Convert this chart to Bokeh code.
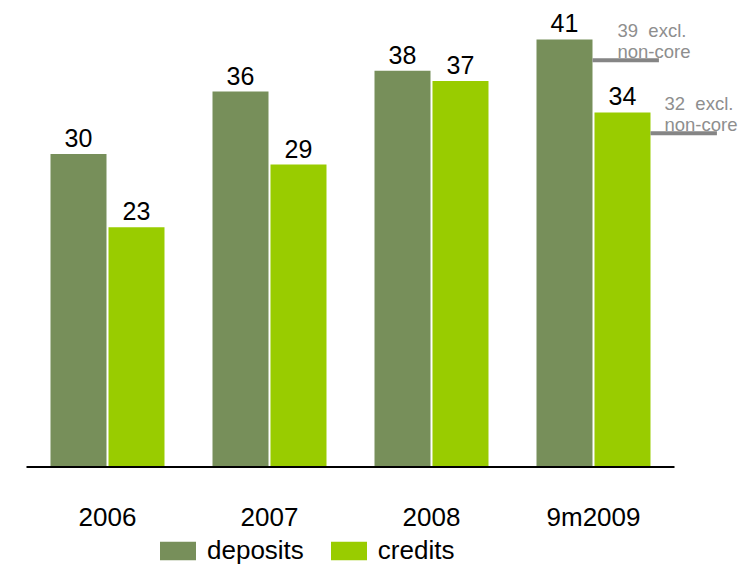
from bokeh.plotting import figure
from bokeh.models import Range1d, Legend, LegendItem
from bokeh.core.properties import value
from bokeh.embed import file_html
from bokeh.resources import INLINE

# ---- data ----
categories = ["2006", "2007", "2008", "9m2009"]
deposits = [30, 36, 38, 41]
credits = [23, 29, 37, 34]
ann_values = [39, 32]          # excl. non-core, for 9m2009 deposits / credits
ann_labels = ["39\u00a0 excl.", "32\u00a0 excl."]
ann_sub = ["non-core", "non-core"]

# ---- styles ----
FONT_NAME = "Liberation Sans"
FONT = value(FONT_NAME)
DEP_COLOR = "#778f5a"
CRE_COLOR = "#99cc00"
GRAY_TXT = "#8e8e8e"
GRAY_LINE = "#858585"

idx = list(range(len(categories)))
W = 0.3457
OFF = 0.179

p = figure(width=752, height=566,
           x_range=Range1d(-0.6605, 3.9815), y_range=Range1d(-9.54, 44.73),
           output_backend="svg", toolbar_location=None,
           x_axis_location=None, y_axis_location=None,
           min_border=0, outline_line_color=None)
p.grid.visible = False
p.background_fill_color = "white"
p.border_fill_color = "white"

dep_x = [i - OFF for i in idx]
cre_x = [i + OFF for i in idx]

r_dep = p.vbar(x=dep_x, top=deposits, bottom=0, width=W,
               fill_color=DEP_COLOR, line_color=None)
r_cre = p.vbar(x=cre_x, top=credits, bottom=0, width=W,
               fill_color=CRE_COLOR, line_color=None)

# baseline
p.segment(x0=[-0.5], y0=[0], x1=[len(categories) - 0.5], y1=[0],
          line_color="black", line_width=2)

# value labels
p.text(x=dep_x, y=deposits, text=[str(v) for v in deposits],
       text_align="center", text_baseline="alphabetic", y_offset=-16,
       text_font=FONT, text_font_size="25px", text_color="black")
p.text(x=cre_x, y=credits, text=[str(v) for v in credits],
       text_align="center", text_baseline="alphabetic", y_offset=-16,
       text_font=FONT, text_font_size="25px", text_color="black")

# category labels
p.text(x=idx, y=[0] * len(idx), text=categories,
       text_align="center", text_baseline="alphabetic", y_offset=50,
       text_font=FONT, text_font_size="26px", text_color="black")

# annotations (excl. non-core)
last = len(categories) - 1
ann_x0 = [last - OFF + W / 2, last + OFF + W / 2]
ann_x1 = [x + 0.41 for x in ann_x0]
p.segment(x0=ann_x0, y0=ann_values, x1=ann_x1, y1=ann_values,
          line_color=GRAY_LINE, line_width=4)
p.text(x=ann_x0, y=ann_values, text=ann_labels, x_offset=[25, 14], y_offset=-30,
       text_align="left", text_baseline="alphabetic",
       text_font=FONT, text_font_size="18.5px", text_color=GRAY_TXT)
p.text(x=ann_x0, y=ann_values, text=ann_sub, x_offset=[25, 14], y_offset=-9,
       text_align="left", text_baseline="alphabetic",
       text_font=FONT, text_font_size="18.5px", text_color=GRAY_TXT)

legend = Legend(items=[LegendItem(label="deposits", renderers=[r_dep]),
                       LegendItem(label="credits", renderers=[r_cre])],
                orientation="horizontal", location=(155, 0),
                padding=0, margin=0, spacing=22, label_standoff=7,
                glyph_width=45, glyph_height=23,
                label_text_font=FONT_NAME, label_text_font_size="26px",
                label_text_color="black",
                border_line_color=None, background_fill_alpha=0)
p.add_layout(legend)

open("out.html", "w").write(file_html(p, INLINE))
